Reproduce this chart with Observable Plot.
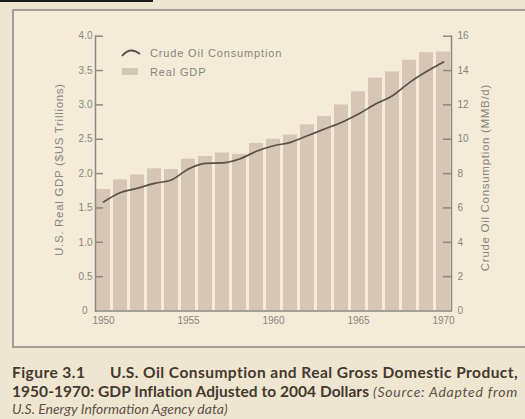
<!DOCTYPE html>
<html>
<head>
<meta charset="utf-8">
<script src="https://cdn.jsdelivr.net/npm/d3@7"></script>
<script src="https://cdn.jsdelivr.net/npm/@observablehq/plot@0.6"></script>
<style>
  html, body { margin: 0; padding: 0; }
  body {
    width: 525px; height: 419px; overflow: hidden; position: relative;
    background: #efe6d2;
    font-family: "Liberation Sans", Arial, sans-serif;
  }
  #rule-top { position: absolute; left: 0; top: 0; width: 153px; height: 2px; background: #1a1a1a; }
  #panel {
    position: absolute; left: 12px; top: 9px; width: 540px; height: 335px;
    border: 2px solid #a39d94; border-right: none; background: #f4ecd9;
  }
  #chart { position: absolute; left: 0; top: 0; }
  .legend { position: absolute; left: 120px; font-size: 11px; letter-spacing: 0.85px; color: #8a847d; }
  .legend svg { position: absolute; left: 0; top: 0; }
  .legend span { position: absolute; left: 30px; top: 0; white-space: nowrap; line-height: 12px; }
  .cap {
    position: absolute; left: 12px; white-space: nowrap; line-height: 18px;
    font-family: Lato, "Open Sans", sans-serif; font-size: 15.5px; letter-spacing: 0.05px; color: #45382f;
  }
  .cap b { font-weight: 700; }
  .cap.wide { letter-spacing: 0.45px; }
  .cap i { font-weight: 400; color: #5e5047; font-size: 14px; letter-spacing: 0.75px; }
  .cap.src i { letter-spacing: 0px; }
</style>
</head>
<body>
<div id="rule-top"></div>
<div id="panel"></div>
<div id="chart"></div>

<div class="legend" style="top:47px">
  <svg width="24" height="12"><path d="M2,9 Q10,-1 20,7" fill="none" stroke="#5a5049" stroke-width="1.8"/></svg>
  <span>Crude Oil Consumption</span>
</div>
<div class="legend" style="top:66px">
  <svg width="24" height="12"><rect x="2" y="2" width="16" height="7" fill="#d7c5b5"/></svg>
  <span>Real GDP</span>
</div>

<div class="cap wide" style="top:363px"><b>Figure 3.1</b></div>
<div class="cap wide" style="top:363px; left:110px"><b>U.S. Oil Consumption and Real Gross Domestic Product,</b></div>
<div class="cap" style="top:382px"><b>1950-1970: GDP Inflation Adjusted to 2004 Dollars</b> <i>(Source: Adapted from</i></div>
<div class="cap src" style="top:399px"><i>U.S. Energy Information Agency data)</i></div>

<script>
// Years on the horizontal axis
const years = [1950, 1951, 1952, 1953, 1954, 1955, 1956, 1957, 1958, 1959, 1960,
               1961, 1962, 1963, 1964, 1965, 1966, 1967, 1968, 1969, 1970];
// U.S. real GDP, $US trillions (2004 dollars)
const gdp = [1.77, 1.91, 1.98, 2.07, 2.06, 2.21, 2.25, 2.30, 2.28, 2.44, 2.50,
             2.56, 2.71, 2.83, 3.00, 3.19, 3.39, 3.48, 3.65, 3.76, 3.77];
// Crude oil consumption, million barrels per day
const oil = [6.35, 6.90, 7.15, 7.43, 7.63, 8.27, 8.60, 8.62, 8.85, 9.30, 9.62,
             9.82, 10.20, 10.60, 10.98, 11.47, 12.05, 12.53, 13.30, 13.94, 14.50];

const gdpTicks = [0.5, 1.0, 1.5, 2.0, 2.5, 3.0, 3.5, 4.0];
const oilTicks = [0, 2, 4, 6, 8, 10, 12, 14, 16];
const yearTicks = [1950, 1955, 1960, 1965, 1970];

// The right axis shares the y scale: 16 MMB/d lines up with $4.0 trillion.
const OIL_PER_TRILLION = 4;
const toY = v => v / OIL_PER_TRILLION;

const table = years.map((year, i) => ({year, gdp: gdp[i], oil: oil[i]}));

const axisColor = "#8d8881";
const textColor = "#8a847d";

const chart = Plot.plot({
  width: 525,
  height: 350,
  marginTop: 35.7,
  marginBottom: 39.5,
  marginLeft: 95,
  marginRight: 74,
  style: {background: "transparent", fontFamily: "Liberation Sans, Arial, sans-serif", fontSize: "10px", color: textColor},
  x: {type: "band", domain: years, paddingInner: 0.18, paddingOuter: 0.06, label: null},
  y: {domain: [0, 4], label: null},
  marks: [
    Plot.barY(table, {x: "year", y: "gdp", fill: "#d7c5b5"}),
    Plot.line(table, {x: "year", y: d => toY(d.oil), stroke: "#5a5049", strokeWidth: 1.7, curve: "monotone-x"}),
    Plot.ruleY([0], {stroke: axisColor, strokeWidth: 1.6}),
    Plot.frame({anchor: "left", stroke: axisColor, strokeWidth: 1.5}),
    Plot.frame({anchor: "right", stroke: axisColor, strokeWidth: 1.5}),

    // left axis: inward ticks, labels outside
    Plot.axisY(gdpTicks, {anchor: "left", label: null, tickSize: -8, tickFormat: () => "", stroke: axisColor, strokeWidth: 1.5}),
    Plot.axisY(gdpTicks, {anchor: "left", label: null, tickSize: 0, tickPadding: 3, tickFormat: d => d.toFixed(1), fill: textColor}),
    Plot.axisY([0], {anchor: "left", label: null, tickSize: 0, tickPadding: 8, tickFormat: () => "0", fill: textColor}),

    // right axis in MMB/d
    Plot.axisY(oilTicks.filter(v => v > 0).map(toY), {anchor: "right", label: null, tickSize: -9, tickFormat: () => "", stroke: axisColor, strokeWidth: 1.5}),
    Plot.axisY(oilTicks.map(toY), {anchor: "right", label: null, tickSize: 0, tickPadding: 6, tickFormat: d => String(Math.round(d * OIL_PER_TRILLION)), fill: textColor}),

    // year labels, no tick marks
    Plot.axisX(yearTicks, {anchor: "bottom", label: null, tickSize: 0, tickPadding: 6, tickFormat: d => String(d), fill: textColor}),

    // axis titles
    Plot.text(["U.S. Real GDP ($US Trillions)"], {frameAnchor: "left", textAnchor: "middle", dx: -36.5, dy: -4, rotate: -90,
      fontSize: 11.5, fill: textColor}),
    Plot.text(["Crude Oil Consumption (MMB/d)"], {frameAnchor: "right", textAnchor: "middle", dx: 34, dy: 4, rotate: -90,
      fontSize: 11.5, fill: textColor})
  ]
});

chart.querySelectorAll("text").forEach(t => {
  if (t.textContent.startsWith("U.S. Real") || t.textContent.startsWith("Crude Oil")) t.style.letterSpacing = "0.7px";
});

document.getElementById("chart").append(chart);
</script>
</body>
</html>
